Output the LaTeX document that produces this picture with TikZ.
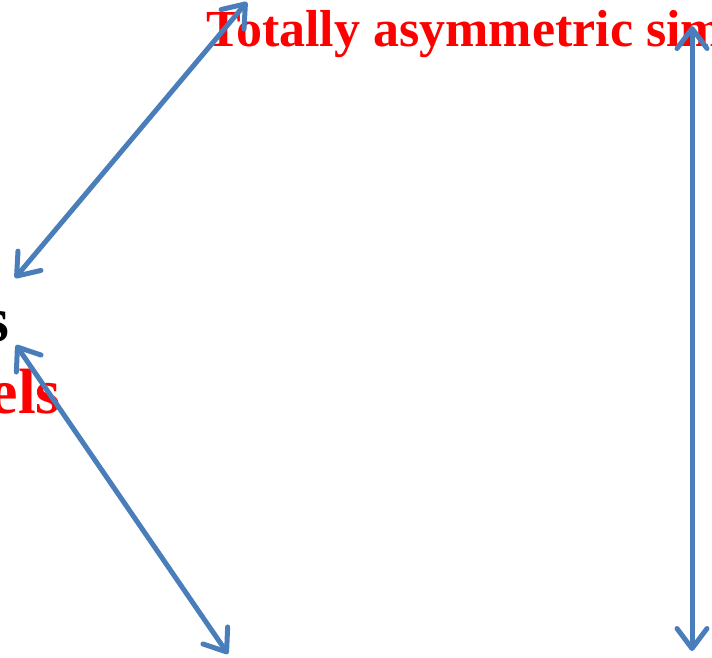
\documentclass[tikz,border=0pt]{standalone}
\usepackage{fontspec}
\setmainfont{Liberation Serif}
\usetikzlibrary{arrows.meta}

\definecolor{arrowblue}{RGB}{74,126,187}
\tikzset{
  link/.style={arrowblue, line width=5pt, line cap=round,
    {Straight Barb[length=20pt, width=30pt, line cap=round, round]}-{Straight Barb[length=20pt, width=30pt, line cap=round, round]}},
  title/.style={font=\fontsize{52}{60}\selectfont\bfseries, inner sep=0pt},
  sidelabel/.style={font=\fontsize{64}{72}\selectfont\bfseries, inner sep=0pt}
}

\begin{document}
\begin{tikzpicture}[x=1pt, y=-1pt]
    \useasboundingbox[clip] (0,0) rectangle (712,657);

    % Labels
    \node[title, red, anchor=base west] (tasep) at (206,46) {Totally asymmetric simple};
    \node[sidelabel, anchor=base east] (left) at (10,341) {s};
    \node[sidelabel, red, anchor=base east] (models) at (61,413) {els};

    % Arrow end points
    \coordinate (a1) at (247,2);
    \coordinate (b1) at (15,278);
    \coordinate (a2) at (16,345);
    \coordinate (b2) at (228,654);
    \coordinate (a3) at (692,26);
    \coordinate (b3) at (692,651);

    % Arrows
    \draw[link] (a1) -- (b1);
    \draw[link] (a2) -- (b2);
    \draw[link] (a3) -- (b3);
\end{tikzpicture}
\end{document}
